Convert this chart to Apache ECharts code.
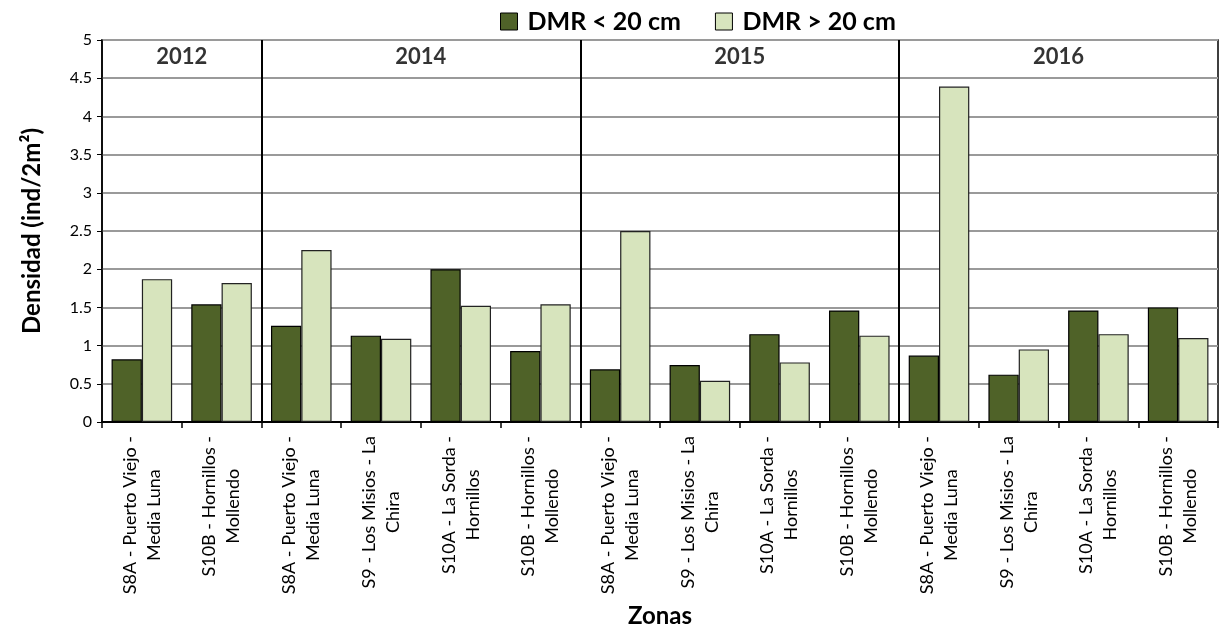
<!DOCTYPE html>
<html>
<head>
<meta charset="utf-8">
<script src="https://cdn.jsdelivr.net/npm/echarts@6/dist/echarts.min.js"></script>
<style>
html,body{margin:0;padding:0;background:#fff;}
#chart{width:1226px;height:633px;}
</style>
</head>
<body>
<div id="chart"></div>
<script>
const categories = [
  "S8A - Puerto Viejo -\nMedia Luna",
  "S10B - Hornillos -\nMollendo",
  "S8A - Puerto Viejo -\nMedia Luna",
  "S9 - Los Misios - La\nChira",
  "S10A - La Sorda -\nHornillos",
  "S10B - Hornillos -\nMollendo",
  "S8A - Puerto Viejo -\nMedia Luna",
  "S9 - Los Misios - La\nChira",
  "S10A - La Sorda -\nHornillos",
  "S10B - Hornillos -\nMollendo",
  "S8A - Puerto Viejo -\nMedia Luna",
  "S9 - Los Misios - La\nChira",
  "S10A - La Sorda -\nHornillos",
  "S10B - Hornillos -\nMollendo"
];
const dmrSmall = [0.82, 1.54, 1.26, 1.13, 2.00, 0.93, 0.69, 0.745, 1.15, 1.46, 0.87, 0.62, 1.46, 1.50];
const dmrLarge = [1.87, 1.82, 2.25, 1.09, 1.52, 1.54, 2.50, 0.54, 0.78, 1.13, 4.39, 0.95, 1.15, 1.10];
const years = ["2012", "2014", "2015", "2016"];
const yearCenters = [1, 4, 8, 12];
const yearLabelY = 4.78;
const dividers = [2, 6, 10];
const yTicks = [0, 0.5, 1, 1.5, 2, 2.5, 3, 3.5, 4, 4.5, 5];

const FONT = "Lato";
const chart = echarts.init(document.getElementById('chart'), null, {renderer: 'canvas'});
const option = {
  animation: false,
  backgroundColor: '#fff',
  textStyle: {fontFamily: FONT},
  legend: {
    top: 4,
    left: 495,
    icon: 'rect',
    itemWidth: 17,
    itemHeight: 17,
    itemGap: 34,
    data: ['DMR < 20 cm', 'DMR > 20 cm'],
    textStyle: {fontFamily: FONT, fontSize: 25, fontWeight: 'bold', color: '#000', padding: [0, 0, 0, 5]},
    itemStyle: {borderColor: '#000', borderWidth: 1}
  },
  grid: {left: 102, right: 8, top: 40, bottom: 211, show: true, borderColor: '#000', borderWidth: 1.5, backgroundColor: 'transparent'},
  xAxis: [{
    type: 'category',
    data: categories,
    name: 'Zonas',
    nameLocation: 'middle',
    nameGap: 182,
    nameTextStyle: {fontFamily: FONT, fontSize: 24, fontWeight: 'bold', color: '#000'},
    axisLine: {lineStyle: {color: '#000', width: 2}},
    axisTick: {show: true, alignWithLabel: false, length: 6, lineStyle: {color: '#000', width: 1.5}},
    axisLabel: {
      rotate: 90,
      margin: 14,
      interval: 0,
      color: '#000',
      fontFamily: FONT,
      fontSize: 18,
      lineHeight: 24,
      formatter: function (v) {
        return v.split('\n').map(function (s) { return '{c|' + s + '}'; }).join('\n');
      },
      rich: {c: {align: 'center', fontFamily: FONT, fontSize: 18, lineHeight: 24, color: '#000'}}
    }
  }, {
    type: 'value',
    min: 0,
    max: 14,
    show: false
  }],
  yAxis: {
    type: 'value',
    min: 0,
    max: 5,
    interval: 0.5,
    name: 'Densidad (ind/2m²)',
    nameLocation: 'middle',
    nameGap: 58,
    nameRotate: 90,
    nameTextStyle: {fontFamily: FONT, fontSize: 24, fontWeight: 'bold', color: '#000'},
    axisLine: {show: true, lineStyle: {color: '#000', width: 1.5}},
    axisTick: {show: true, length: 5, lineStyle: {color: '#000'}},
    axisLabel: {
      color: '#000', fontFamily: FONT, fontSize: 16, margin: 10,
      formatter: function (v) { return yTicks.indexOf(v) >= 0 ? String(v) : ''; }
    },
    splitLine: {show: true, lineStyle: {color: '#9a9a9a', width: 2}}
  },
  series: [{
    name: 'DMR < 20 cm',
    type: 'bar',
    data: dmrSmall,
    barGap: '0%',
    barCategoryGap: '24%',
    itemStyle: {color: '#4F6228', borderColor: '#000', borderWidth: 1.2}
  }, {
    name: 'DMR > 20 cm',
    type: 'bar',
    data: dmrLarge,
    itemStyle: {color: '#D7E4BD', borderColor: '#222', borderWidth: 1.2}
  }, {
    name: 'dividers',
    type: 'line',
    xAxisIndex: 1,
    data: [],
    silent: true,
    markLine: {
      silent: true,
      symbol: ['none', 'none'],
      label: {show: false},
      lineStyle: {color: '#000', width: 2, type: 'solid'},
      data: dividers.map(function (d) { return {xAxis: d}; })
    }
  }, {
    name: 'years',
    type: 'scatter',
    xAxisIndex: 1,
    symbolSize: 0,
    silent: true,
    data: years.map(function (y, i) { return [yearCenters[i], yearLabelY, y]; }),
    label: {
      show: true,
      position: 'inside',
      formatter: function (p) { return p.data[2]; },
      fontFamily: FONT, fontSize: 22, fontWeight: 'bold', color: '#000'
    }
  }]
};
chart.setOption(option);
</script>
</body>
</html>
